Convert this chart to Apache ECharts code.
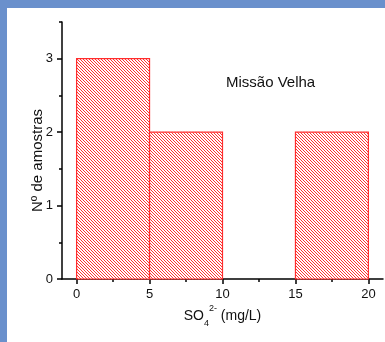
<!DOCTYPE html>
<html><head><meta charset="utf-8">
<script src="https://cdn.jsdelivr.net/npm/echarts@6/dist/echarts.min.js"></script>
<style>html,body{margin:0;padding:0;background:#fff}#c{width:385px;height:342px}</style>
</head><body><div id="c"></div>
<script>
// ---- data ----
const binStart = [0, 5, 10, 15];
const binEnd   = [5, 10, 15, 20];
const counts   = [3, 2, 0, 2];
const xTicks = [0, 5, 10, 15, 20];
const xMinor = [2.5, 7.5, 12.5, 17.5];
const yTicks = [0, 1, 2, 3];
const yMinor = [0.5, 1.5, 2.5, 3.5];
const title = 'Missão Velha';

const FONT = '"Liberation Sans", Arial, sans-serif';
const RED = 'rgb(255,45,45)';

// hatch pattern (\\\)
const tile = document.createElement('canvas');
tile.width = 3; tile.height = 3;
const tc = tile.getContext('2d');
tc.fillStyle = '#ffffff'; tc.fillRect(0, 0, 3, 3);
tc.fillStyle = 'rgb(255,50,50)';
for (let i = 0; i < 3; i++) tc.fillRect(i, i, 1, 1);

const data = binStart.map((s, i) => [s, binEnd[i], counts[i]]).filter(d => d[2] > 0);

const chart = echarts.init(document.getElementById('c'), null, {renderer: 'canvas'});
const lineStyle = {color: '#000', width: 1.5};
chart.setOption({
  animation: false,
  backgroundColor: '#ffffff',
  textStyle: {fontFamily: FONT},
  grid: {left: 62, right: 2, top: 22, bottom: 63},
  xAxis: [{
    type: 'value', min: -1, max: 21, position: 'bottom',
    axisLine: {show: true, onZero: false, lineStyle: lineStyle},
    axisTick: {show: true, customValues: xTicks, length: 5, lineStyle: lineStyle},
    axisLabel: {customValues: xTicks, margin: 9, fontSize: 13, color: '#111', fontFamily: FONT},
    splitLine: {show: false},
    name: '{n|SO}{sub|4}{sup|2-}{n| (mg/L)}',
    nameLocation: 'middle', nameGap: 25, nameMoveOverlap: false,
    nameTextStyle: {
      fontFamily: FONT,
      rich: {
        n: {fontSize: 14, color: '#111', fontFamily: FONT, lineHeight: 24, verticalAlign: 'middle'},
        sub: {fontSize: 9, color: '#111', fontFamily: FONT, verticalAlign: 'bottom'},
        sup: {fontSize: 9, color: '#111', fontFamily: FONT, verticalAlign: 'top'}
      }
    }
  }, {
    type: 'value', min: -1, max: 21, position: 'bottom',
    axisLine: {show: false, onZero: false},
    axisTick: {show: true, customValues: xMinor, length: 3, lineStyle: lineStyle},
    axisLabel: {show: false},
    splitLine: {show: false}
  }],
  yAxis: [{
    type: 'value', min: 0, max: 3.5, position: 'left',
    axisLine: {show: true, onZero: false, lineStyle: lineStyle},
    axisTick: {show: true, customValues: yTicks, length: 5, lineStyle: lineStyle},
    axisLabel: {customValues: yTicks, margin: 9, fontSize: 13, color: '#111', fontFamily: FONT},
    splitLine: {show: false},
    name: 'Nº de amostras',
    nameLocation: 'middle', nameGap: 17, nameRotate: 90, nameMoveOverlap: false,
    nameTextStyle: {fontSize: 15, color: '#111', fontFamily: FONT, padding: [0, 20, 0, 0]}
  }, {
    type: 'value', min: 0, max: 3.5, position: 'left',
    axisLine: {show: false, onZero: false},
    axisTick: {show: true, customValues: yMinor, length: 3, lineStyle: lineStyle},
    axisLabel: {show: false},
    splitLine: {show: false}
  }],
  graphic: [
    {type: 'rect', left: 0, top: 0, z: 100, shape: {width: 385, height: 8}, style: {fill: '#6a90cc'}},
    {type: 'rect', left: 0, top: 0, z: 100, shape: {width: 7, height: 342}, style: {fill: '#6a90cc'}},
    {type: 'text', left: 226, top: 75, z: 100, style: {text: title, font: '15px ' + FONT, fill: '#111'}}
  ],
  series: [{
    type: 'custom',
    xAxisIndex: 0, yAxisIndex: 0,
    data: data,
    encode: {x: [0, 1], y: 2},
    renderItem: function (params, api) {
      const p0 = api.coord([api.value(0), api.value(2)]);
      const p1 = api.coord([api.value(1), 0]);
      return {
        type: 'rect',
        shape: {x: p0[0], y: p0[1], width: p1[0] - p0[0], height: p1[1] - p0[1]},
        style: {fill: {image: tile, repeat: 'repeat'}, stroke: RED, lineWidth: 1.2}
      };
    }
  }]
});
</script>
</body></html>
